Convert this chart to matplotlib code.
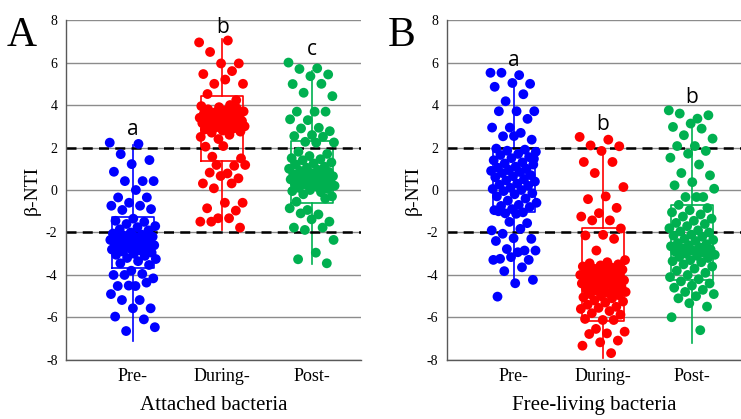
import numpy as np
import matplotlib.pyplot as plt

groups = ["Pre-", "During-", "Post-"]
colors = ["#0000FF", "#FF0000", "#00B050"]

# attached bacteria, beta-NTI values
att_pre = [2.23, 2.17, 1.69, 1.41, 1.22, 0.86, 0.42, 0.42, 0.42, 0.0, -0.35, -0.35, -0.6,
           -0.74, -0.74, -0.94, -0.9,
           -1.35, -1.45, -1.5, -1.6, -1.7, -1.75, -1.85, -1.9, -2.0, -2.05, -2.1, -2.15, -2.2,
           -2.2, -2.25, -2.3, -2.3, -2.35, -2.4, -2.4, -2.45, -2.5, -2.5, -2.55, -2.6, -2.6,
           -2.65, -2.7, -2.7, -2.75, -2.8, -2.85, -2.9, -2.95, -3.0, -3.05, -3.1, -3.2, -3.25,
           -3.35, -3.45, -3.53, -3.8, -4.0, -3.95, -4.0, -4.16, -4.52, -4.52, -4.36, -4.5,
           -4.9, -5.18, -5.18, -5.57, -5.57, -5.96, -6.09, -6.64, -6.46]
att_during = [6.95, 7.04, 6.5, 5.96, 5.96, 5.46, 5.6, 5.0, 5.0, 5.2, 4.52, 4.23,
              2.4, 2.5, 2.6, 2.7, 2.75, 2.8, 2.85, 2.9, 2.95, 3.0, 3.0, 3.05, 3.1, 3.1, 3.15,
              3.2, 3.2, 3.25, 3.3, 3.3, 3.35, 3.4, 3.4, 3.45, 3.5, 3.5, 3.55, 3.6, 3.6, 3.65,
              3.7, 3.75, 3.8, 3.85, 3.9, 3.95, 4.0,
              1.57, 1.49, 2.07, 2.04, 1.14, 1.18, 1.18, 0.78, 0.82, 0.55, 0.66, 0.31, 0.31,
              0.08, -0.6, -0.6, -0.86, -0.97, -1.33, -1.49, -1.33, -1.49, -1.77]
att_post = [6.0, 5.73, 5.7, 5.44, 5.36, 4.99, 5.0, 4.58, 4.42, 3.69, 3.69, 3.69, 3.29, 3.33,
            2.93, 2.9, 2.77, 2.59, 2.54, 2.51, 2.27, 2.24, 2.23,
            1.8, 1.7, 1.6, 1.5, 1.45, 1.4, 1.3, 1.25, 1.2, 1.1, 1.05, 1.0, 0.95, 0.9, 0.85,
            0.8, 0.75, 0.7, 0.7, 0.65, 0.6, 0.6, 0.55, 0.5, 0.5, 0.45, 0.4, 0.4, 0.35, 0.3,
            0.3, 0.25, 0.2, 0.15, 0.1, 0.05, 0.0, -0.05, -0.1, -0.2, -0.3,
            0.31, -0.55, -0.4, -0.94, -0.86, -1.15, -1.1, -1.49, -1.38, -1.77, -1.77, -1.88,
            -2.35, -2.95, -3.26, -3.45]

# free-living bacteria
free_pre = [5.52, 5.41, 5.52, 5.0, 5.04, 4.86, 4.51, 4.18, 3.71, 3.71, 3.71, 3.35, 2.94,
            2.94, 2.69, 2.53, 2.37, 2.54,
            1.95, 1.9, 1.85, 1.8, 1.7, 1.65, 1.55, 1.5, 1.4, 1.3, 1.25, 1.2, 1.1, 1.05, 1.0,
            0.95, 0.9, 0.85, 0.8, 0.7, 0.65, 0.6, 0.5, 0.45, 0.4, 0.3, 0.25, 0.2, 0.1, 0.05,
            0.0, -0.05, -0.15, -0.2, -0.3, -0.4, -0.5, -0.6, -0.7, -0.75, -0.8, -0.9, -0.95,
            -1.05, -1.1, 1.47,
            -1.12, -1.0, -1.56, -1.5, -1.9, -1.83, -2.06, -2.3, -2.27, -2.4, -2.85, -2.78,
            -2.85, -2.93, -3.24, -3.29, -3.16, -3.29, -3.64, -3.82, -4.23, -4.39, -5.02]
free_during = [2.5, 2.37, 2.1, 2.06, 1.84, 1.32, 1.32, 0.8, 0.14, -0.3, -0.43, -0.84,
               -1.09, -1.25, -1.43, -1.43, -1.81, -2.11, -2.14, -2.3, -2.85,
               -3.3, -3.4, -3.45, -3.5, -3.55, -3.6, -3.65, -3.7, -3.75, -3.8, -3.85, -3.9,
               -3.95, -4.0, -4.0, -4.05, -4.1, -4.1, -4.15, -4.2, -4.2, -4.25, -4.3, -4.3,
               -4.35, -4.4, -4.4, -4.45, -4.5, -4.55, -4.6, -4.65, -4.7, -4.75, -4.8, -4.85,
               -4.9, -4.95, -5.0, -5.05, -5.1, -5.2, -5.25, -5.3, -5.4, -5.5, -5.55, -5.6,
               -5.7, -5.8,
               -5.87, -6.12, -6.07, -6.12, -6.54, -6.67, -6.75, -6.78, -7.09, -7.17, -7.33,
               -7.68]
free_post = [3.75, 3.36, 3.6, 3.52, 3.13, 2.97, 2.89, 2.58, 2.42, 2.07, 2.07, 1.84, 1.71,
             1.52, 1.2, 0.8, 0.69, 0.37, 0.22, -0.33, -0.33, 0.06, -0.33,
             -0.7, -0.85, -0.95, -1.05, -1.15, -1.25, -1.35, -1.45, -1.55, -1.6, -1.7, -1.8,
             -1.9, -1.95, -2.0, -2.1, -2.15, -2.2, -2.3, -2.35, -2.4, -2.5, -2.55, -2.6,
             -2.65, -2.7, -2.75, -2.8, -2.85, -2.9, -2.95, -3.0, -3.05, -3.1, -3.15, -3.2,
             -3.3, -3.35, -3.4, -3.5, -3.6, -3.7, -3.8, -3.9, -4.0, -4.1, -4.2, -4.3, -4.4,
             -4.5, -4.6, -4.7, -4.8, -4.9, -5.0, -5.1,
             -5.49, -5.33, -5.99, -6.6]

# box statistics: q1, median, q3, lower whisker, upper whisker
att_q1 = [-3.65, 1.35, -0.6]
att_med = [-2.5, 3.2, 0.6]
att_q3 = [-1.25, 4.45, 2.3]
att_lo = [-7.1, -1.9, -3.5]
att_hi = [2.1, 7.1, 5.6]

free_q1 = [-1.05, -6.15, -4.25]
free_med = [0.75, -4.0, -3.0]
free_q3 = [2.0, -1.8, -0.7]
free_lo = [-4.5, -7.9, -7.2]
free_hi = [4.9, 2.0, 3.0]

att_letters = ["a", "b", "c"]
free_letters = ["a", "b", "b"]

serif = "Liberation Serif"

fig = plt.figure(figsize=(7.41, 4.19), dpi=100)
axA = fig.add_axes([0.089, 0.141, 0.398, 0.811])
axB = fig.add_axes([0.603, 0.141, 0.397, 0.811])


def panel(ax, data, q1, med, q3, lo, hi, letters, xlabel, tag):
    stats = []
    for i in range(3):
        stats.append(dict(q1=q1[i], med=med[i], q3=q3[i], whislo=lo[i], whishi=hi[i], fliers=[]))
    bp = ax.bxp(stats, positions=[1, 2, 3], widths=0.47, showcaps=False, showfliers=False,
                patch_artist=False, zorder=2)
    for i in range(3):
        bp["boxes"][i].set(color=colors[i], linewidth=1.2)
        bp["medians"][i].set(color=colors[i], linewidth=1.2)
        bp["whiskers"][2 * i].set(color=colors[i], linewidth=1.2)
        bp["whiskers"][2 * i + 1].set(color=colors[i], linewidth=1.2)

    for i, vals in enumerate(data):
        vals = np.array(vals)
        n = len(vals)
        # spread the points sideways with a fixed low-discrepancy pattern
        offs = ((np.arange(n) * 0.618034) % 1 - 0.5) * 0.52
        ax.scatter(i + 1 + offs, vals, s=50, color=colors[i], edgecolors="none", zorder=3)
        ax.text(i + 1, vals.max() + 0.6, letters[i], ha="center", va="center",
                fontsize=15, family="Open Sans", zorder=4)

    ax.axhline(2, color="black", linestyle=(0, (4, 2.5)), linewidth=1.8, zorder=2.5)
    ax.axhline(-2, color="black", linestyle=(0, (4, 2.5)), linewidth=1.8, zorder=2.5)

    ax.set_ylim(-8, 8)
    ax.set_xlim(0.25, 3.55)
    ax.set_yticks(np.arange(-8, 9, 2))
    ax.set_yticklabels([str(v) for v in range(-8, 9, 2)], family=serif, fontsize=10)
    ax.set_xticks([1, 2, 3])
    ax.set_xticklabels(groups, family=serif, fontsize=13)
    ax.tick_params(length=0, pad=6)
    ax.grid(axis="y", color="#8c8c8c", linewidth=1.0, zorder=0)
    ax.set_axisbelow(True)
    for s in ["top", "right"]:
        ax.spines[s].set_visible(False)
    for s in ["left", "bottom"]:
        ax.spines[s].set_color("#595959")
        ax.spines[s].set_linewidth(1.0)
    ax.set_ylabel("β-NTI", family=serif, fontsize=14, labelpad=4)
    ax.set_xlabel(xlabel, family=serif, fontsize=15, labelpad=8)
    ax.text(-0.2, 0.955, tag, transform=ax.transAxes, family=serif, fontsize=30,
            ha="left", va="center")


panel(axA, [att_pre, att_during, att_post], att_q1, att_med, att_q3, att_lo, att_hi,
      att_letters, "Attached bacteria", "A")
panel(axB, [free_pre, free_during, free_post], free_q1, free_med, free_q3, free_lo, free_hi,
      free_letters, "Free-living bacteria", "B")

fig.savefig("out.png", dpi=100)
